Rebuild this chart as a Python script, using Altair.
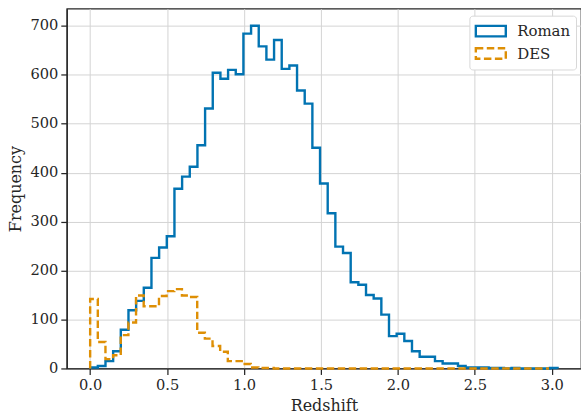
import altair as alt
import pandas as pd

# ---- data ----
roman_start = 0.0
roman_width = 0.0498
roman_counts = [2, 5, 15, 35, 79, 119, 138, 165, 226, 247,
                270, 367, 392, 412, 456, 531, 604, 592, 610, 601,
                684, 700, 658, 631, 671, 612, 619, 568, 541, 451,
                378, 317, 249, 236, 176, 171, 150, 143, 110, 66,
                71, 56, 35, 24, 24, 15, 10, 10, 5, 2,
                2, 2, 1, 1, 0, 1, 0, 0, 0, 0, 1]

des_start = 0.0
des_width = 0.0497
des_counts = [142, 54, 19, 27, 68, 94, 149, 127, 127, 148,
              158, 162, 149, 146, 73, 61, 46, 34, 15, 15,
              9, 2, 1, 1, 0, 0, 0, 0, 0, 0,
              0, 0, 0, 0, 0, 0, 0, 0, 0, 0,
              0, 0, 0, 0, 0, 0, 0, 0, 0, 0,
              0, 0, 0, 0, 0, 0, 0, 0, 0, 0]

series_names = ["Roman", "DES"]
series_colors = ["#0173b2", "#de8f05"]
x_ticks = [0.0, 0.5, 1.0, 1.5, 2.0, 2.5, 3.0]
y_ticks = [0, 100, 200, 300, 400, 500, 600, 700]


def step_outline(name, start, width, counts):
    rows = []
    order = 0
    rows.append({"series": name, "x": start, "y": 0, "o": order})
    for i, c in enumerate(counts):
        left = start + i * width
        right = start + (i + 1) * width
        order += 1
        rows.append({"series": name, "x": left, "y": c, "o": order})
        order += 1
        rows.append({"series": name, "x": right, "y": c, "o": order})
    order += 1
    rows.append({"series": name, "x": start + len(counts) * width, "y": 0, "o": order})
    return rows


roman_df = pd.DataFrame(step_outline("Roman", roman_start, roman_width, roman_counts))
des_df = pd.DataFrame(step_outline("DES", des_start, des_width, des_counts))

FONT = "DejaVu Serif"

x_enc = alt.X("x:Q",
              scale=alt.Scale(domain=[-0.152, 3.19], nice=False, zero=False),
              axis=alt.Axis(values=x_ticks, format=".1f", title="Redshift"))
y_enc = alt.Y("y:Q",
              scale=alt.Scale(domain=[0, 735], nice=False),
              axis=alt.Axis(values=y_ticks, title="Frequency"))
color_enc = alt.Color("series:N",
                      scale=alt.Scale(domain=series_names, range=series_colors),
                      legend=alt.Legend(
                          title=None, orient="none", legendX=404, legendY=7,
                          symbolType="M-1.67,-0.583H1.67V0.583H-1.67Z", symbolSize=324,
                          symbolOffset=6, symbolStrokeWidth=2.4,
                          symbolFillColor="transparent",
                          labelFont=FONT, labelFontSize=15, labelColor="#262626",
                          fillColor="white", strokeColor="#d8d8d8", cornerRadius=3,
                          padding=5, rowPadding=1.5, labelOffset=16))
dash_enc = alt.StrokeDash("series:N",
                          scale=alt.Scale(domain=series_names, range=[[1, 0], [7.5, 3.5]]),
                          legend=None)

roman = alt.Chart(roman_df).mark_line(strokeWidth=2.4, strokeJoin="miter").encode(
    x=x_enc, y=y_enc, color=color_enc, strokeDash=dash_enc, order="o:Q")
des = alt.Chart(des_df).mark_line(strokeWidth=2.4, strokeJoin="miter").encode(
    x=x_enc, y=y_enc, color=color_enc, strokeDash=dash_enc, order="o:Q")

chart = alt.layer(roman, des).properties(
    width=516, height=361,
    autosize=alt.AutoSizeParams(type="none"),
    padding={"left": 67, "top": 8, "right": 0, "bottom": 49},
    background="white",
).configure_view(
    stroke="#262626", strokeWidth=1.25
).configure_axis(
    labelFont=FONT, labelFontSize=14.7, labelColor="#262626",
    titleFont=FONT, titleFontSize=16, titleColor="#262626", titleFontWeight="normal",
    grid=True, gridColor="#d4d4d4", gridWidth=1,
    domainColor="#262626", domainWidth=1.25,
    tickColor="#262626", tickSize=6, tickWidth=1.25,
    labelPadding=3,
).configure_axisX(
    titlePadding=5
).configure_axisY(
    titlePadding=6
)

chart.save("out.html", embed_options={"renderer": "svg", "actions": False})
